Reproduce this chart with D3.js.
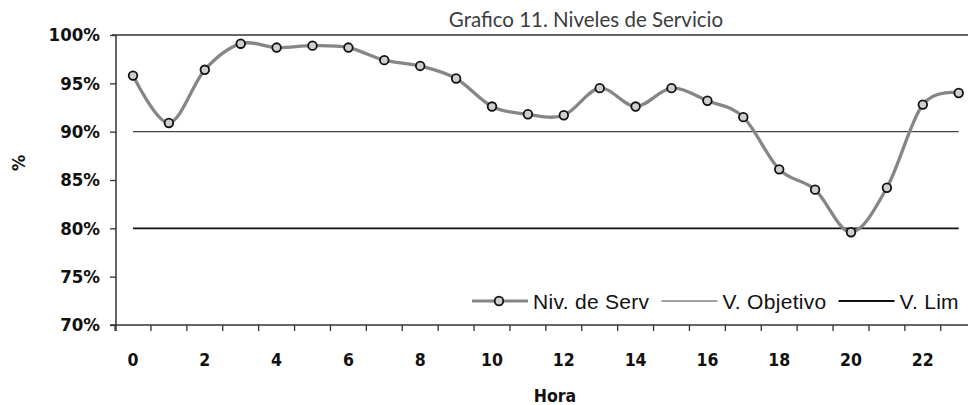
<!DOCTYPE html>
<html>
<head>
<meta charset="utf-8">
<script src="https://cdn.jsdelivr.net/npm/d3@7"></script>
<style>
  body { margin: 0; background: #fff; }
  svg { display: block; }
</style>
</head>
<body>
<svg id="chart" width="968" height="405"></svg>
<script>
// valores
const horas = d3.range(0, 24);
const nivServ = [95.8, 90.9, 96.4, 99.1, 98.7, 98.9, 98.7, 97.4, 96.8, 95.5, 92.6, 91.8,
                 91.7, 94.5, 92.6, 94.5, 93.2, 91.5, 86.1, 84.0, 79.6, 84.2, 92.8, 94.0];
const vObjetivo = horas.map(() => 90);
const vLim = horas.map(() => 80);
const yTicks = [70, 75, 80, 85, 90, 95, 100];
const xLabels = [0, 2, 4, 6, 8, 10, 12, 14, 16, 18, 20, 22];
const legendNames = ["Niv. de Serv", "V. Objetivo", "V. Lim"];

const W = 968, H = 405;
const plotLeft = 116, plotTop = 35, plotBottom = 325;
const step = 35.9;

const svg = d3.select("#chart");

const x = d3.scaleLinear().domain([0, 23]).range([133, 133 + 23 * step]);
const y = d3.scaleLinear().domain([70, 100]).range([plotBottom, plotTop]);

const axisFont = "'DejaVu Sans Condensed', 'DejaVu Sans', sans-serif";

// titulo
svg.append("text")
  .attr("x", 586)
  .attr("y", 27)
  .attr("text-anchor", "middle")
  .attr("font-family", "Lato, 'Open Sans', sans-serif")
  .attr("font-size", "20.5px")
  .attr("fill", "#3c3c3c")
  .text("Grafico 11. Niveles de Servicio");

// marco superior y ejes
svg.append("line")
  .attr("x1", 112).attr("x2", W)
  .attr("y1", plotTop).attr("y2", plotTop)
  .attr("stroke", "#333").attr("stroke-width", 1.5);

svg.append("line")
  .attr("x1", plotLeft).attr("x2", plotLeft)
  .attr("y1", plotTop).attr("y2", plotBottom + 6)
  .attr("stroke", "#333").attr("stroke-width", 1.5);

svg.append("line")
  .attr("x1", 110).attr("x2", W)
  .attr("y1", plotBottom).attr("y2", plotBottom)
  .attr("stroke", "#333").attr("stroke-width", 1.5);

// eje y
const yAxis = d3.axisLeft(y)
  .tickValues(yTicks)
  .tickSize(6)
  .tickPadding(10)
  .tickFormat(d => d + "%");

const gy = svg.append("g")
  .attr("transform", `translate(${plotLeft},0)`)
  .call(yAxis);
gy.select(".domain").remove();
gy.selectAll(".tick line").attr("stroke", "#333").attr("stroke-width", 1.3);
gy.selectAll(".tick text")
  .attr("font-family", axisFont)
  .attr("font-weight", "bold")
  .attr("font-size", "18.5px")
  .attr("fill", "#111");

// marcas del eje x (entre categorias)
const tickPos = d3.range(0, 25).map(i => i - 0.5).filter(v => x(v) <= W);
svg.append("g")
  .selectAll("line")
  .data(tickPos)
  .join("line")
  .attr("x1", d => x(d)).attr("x2", d => x(d))
  .attr("y1", plotBottom).attr("y2", plotBottom + 6)
  .attr("stroke", "#333").attr("stroke-width", 1.3);

svg.append("g")
  .selectAll("text")
  .data(xLabels)
  .join("text")
  .attr("x", d => x(d))
  .attr("y", 366)
  .attr("text-anchor", "middle")
  .attr("font-family", axisFont)
  .attr("font-weight", "bold")
  .attr("font-size", "17.5px")
  .attr("fill", "#111")
  .text(d => d);

// titulos de ejes
svg.append("text")
  .attr("x", 555)
  .attr("y", 402)
  .attr("text-anchor", "middle")
  .attr("font-family", axisFont)
  .attr("font-weight", "bold")
  .attr("font-size", "17.5px")
  .attr("fill", "#111")
  .text("Hora");

svg.append("text")
  .attr("transform", "translate(25,163) rotate(-90)")
  .attr("text-anchor", "middle")
  .attr("font-family", axisFont)
  .attr("font-weight", "bold")
  .attr("font-size", "18px")
  .attr("fill", "#111")
  .text("%");

// lineas de referencia
const flat = d3.line().x((d, i) => x(horas[i])).y(d => y(d));

svg.append("path")
  .datum(vObjetivo)
  .attr("d", flat)
  .attr("fill", "none")
  .attr("stroke", "#444")
  .attr("stroke-width", 1.2);

svg.append("path")
  .datum(vLim)
  .attr("d", flat)
  .attr("fill", "none")
  .attr("stroke", "#111")
  .attr("stroke-width", 1.8);

// serie principal
const smooth = d3.line()
  .x((d, i) => x(horas[i]))
  .y(d => y(d))
  .curve(d3.curveCatmullRom.alpha(0));

svg.append("path")
  .datum(nivServ)
  .attr("d", smooth)
  .attr("fill", "none")
  .attr("stroke", "#868686")
  .attr("stroke-width", 3.3);

svg.append("g")
  .selectAll("circle")
  .data(nivServ)
  .join("circle")
  .attr("cx", (d, i) => x(horas[i]))
  .attr("cy", d => y(d))
  .attr("r", 4.3)
  .attr("fill", "#cfcfcf")
  .attr("stroke", "#111")
  .attr("stroke-width", 1.8);

// leyenda
const legendY = 301;
const legendStyles = [
  { stroke: "#868686", width: 3, marker: true },
  { stroke: "#444", width: 1.2, marker: false },
  { stroke: "#111", width: 1.8, marker: false }
];
let lx = 472;
legendNames.forEach((name, i) => {
  const st = legendStyles[i];
  const g = svg.append("g");
  g.append("line")
    .attr("x1", lx).attr("x2", lx + 56)
    .attr("y1", legendY).attr("y2", legendY)
    .attr("stroke", st.stroke).attr("stroke-width", st.width);
  if (st.marker) {
    g.append("circle")
      .attr("cx", lx + 27).attr("cy", legendY)
      .attr("r", 4.3)
      .attr("fill", "#cfcfcf")
      .attr("stroke", "#111")
      .attr("stroke-width", 1.8);
  }
  const t = g.append("text")
    .attr("x", lx + 61)
    .attr("y", legendY + 7.5)
    .attr("font-family", "'Liberation Sans', Arial, sans-serif")
    .attr("font-size", "21px")
    .attr("letter-spacing", "0.3px")
    .attr("fill", "#111")
    .text(name);
  lx += 61 + t.node().getComputedTextLength() + 12;
});
</script>
</body>
</html>
